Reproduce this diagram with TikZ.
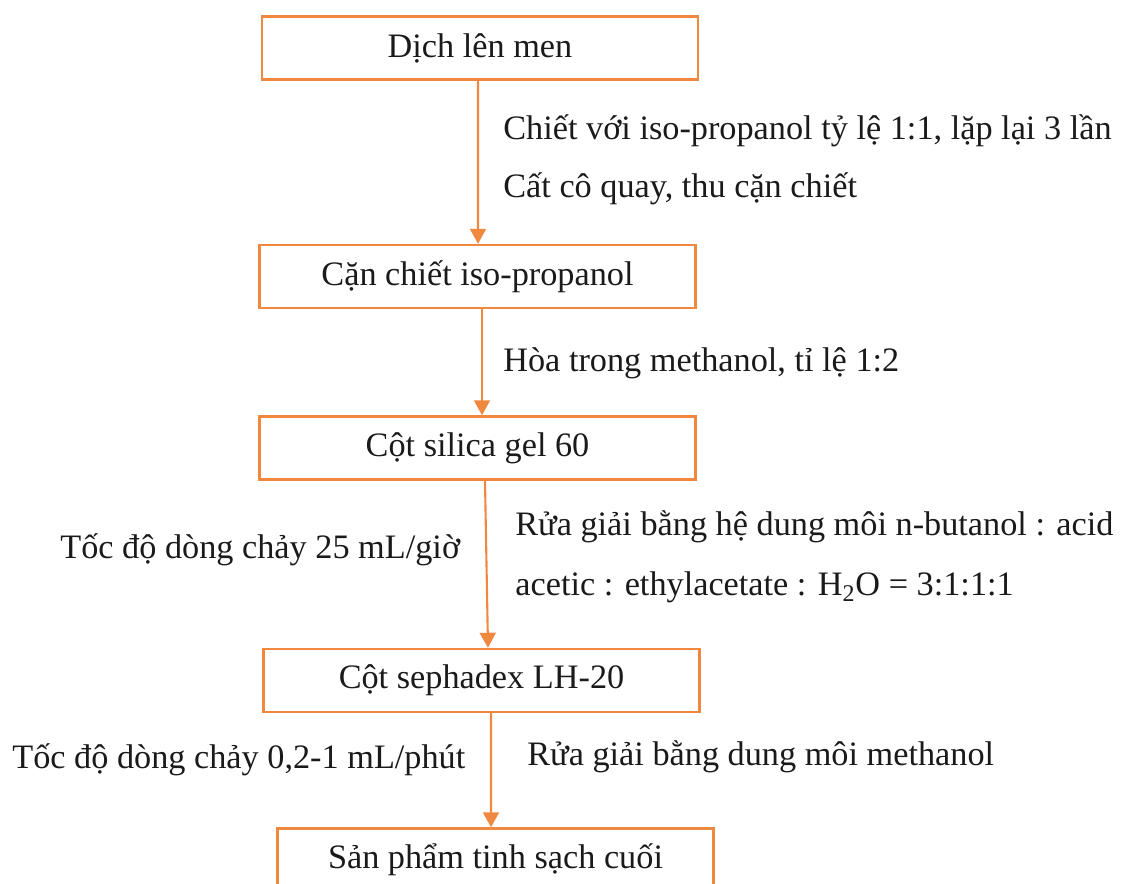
\documentclass[tikz,border=0pt]{standalone}
\usepackage{fontspec}
\setmainfont{Liberation Serif}
\usetikzlibrary{arrows.meta,positioning}
\definecolor{ink}{HTML}{1A1A1A}
\definecolor{accent}{HTML}{F0893F}

\begin{document}
\begin{tikzpicture}[font=\fontsize{19.5}{24}\selectfont,text=ink,
  >={Triangle[width=.32cm,length=.3cm]},
  stage/.style={draw=accent,line width=1.4pt,minimum width=8.72cm,
    minimum height=1.26cm,inner sep=0pt},
  flow/.style={->,accent,line width=1.2pt},
  note/.style={anchor=base west,inner sep=0pt}]
  \useasboundingbox (0,0) rectangle (22.6,-17.68);

  \node[stage] (dich) at (9.6,-0.96) {Dịch lên men};
  \node[stage] (can) at (9.55,-5.53) {Cặn chiết iso-propanol};
  \node[stage] (silica) at (9.55,-8.96) {Cột silica gel 60};
  \node[stage] (sephadex) at (9.63,-13.61) {Cột sephadex LH-20};
  \node[stage] (sanpham) at (9.91,-17.2) {Sản phẩm tinh sạch cuối};

  \draw[flow] ([xshift=-.04cm]dich.south) -- ([xshift=.01cm]can.north);
  \draw[flow] ([xshift=.09cm]can.south) -- ([xshift=.09cm]silica.north);
  \draw[flow] ([xshift=.15cm]silica.south) -- ([xshift=.13cm]sephadex.north);
  \draw[flow] ([xshift=.19cm]sephadex.south) -- ([xshift=-.09cm]sanpham.north);

  \node[note] (chiet) at (10.06,-2.8)
    {Chiết với iso-propanol tỷ lệ 1:1, lặp lại 3 lần};
  \node[note] (cat) at (10.06,-3.96) {Cất cô quay, thu cặn chiết};
  \node[note] (hoa) at (10.06,-7.44) {Hòa trong methanol, tỉ lệ 1:2};
  \node[note] (rua1) at (10.3,-10.72)
    {Rửa giải bằng hệ dung môi n-butanol : acid};
  \node[note] (rua2) at (10.3,-11.92)
    {acetic : ethylacetate : H\textsubscript{2}O = 3:1:1:1};
  \node[note] (toc1) at (1.2,-11.18) {Tốc độ dòng chảy 25 mL/giờ};
  \node[note] (toc2) at (0.24,-15.36) {Tốc độ dòng chảy 0,2-1 mL/phút};
  \node[note] (rua3) at (10.54,-15.3) {Rửa giải bằng dung môi methanol};
\end{tikzpicture}
\end{document}
